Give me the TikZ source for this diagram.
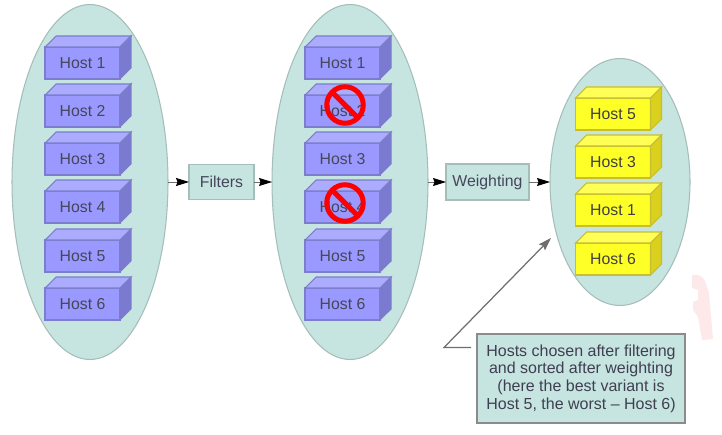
\documentclass[tikz,border=0pt]{standalone}
\usepackage{xcolor}
\usepackage{fontspec}
\setmainfont{Liberation Sans}
\usetikzlibrary{shapes.geometric, arrows.meta, positioning}
\definecolor{poolcolor}{RGB}{198,228,224}
\definecolor{poolline}{RGB}{165,190,185}
\definecolor{hostcolor}{RGB}{153,153,255}
\definecolor{hosttop}{RGB}{172,172,255}
\definecolor{hostside}{RGB}{122,122,208}
\definecolor{hostline}{RGB}{125,125,205}
\definecolor{bestcolor}{RGB}{255,255,40}
\definecolor{besttop}{RGB}{255,255,85}
\definecolor{bestside}{RGB}{218,208,30}
\definecolor{bestline}{RGB}{200,190,50}
\definecolor{flowcolor}{RGB}{110,110,110}
\definecolor{textcolor}{RGB}{70,70,90}
\definecolor{markcolor}{RGB}{253,233,233}

\begin{document}
\begin{tikzpicture}[
    x=0.02cm, y=-0.02cm,
    pool/.style={draw=poolline, line width=0.6pt, fill=poolcolor, ellipse, inner sep=0pt, outer sep=0pt},
    hostbox/.style={draw=hostline, line width=0.6pt, fill=hostcolor, minimum width=1.5cm, minimum height=0.64cm, inner sep=0pt, outer sep=0pt, font=\fontsize{9}{10}\selectfont, text=textcolor},
    bestbox/.style={hostbox, draw=bestline, fill=bestcolor, text=black!75},
    stage/.style={draw=poolline, line width=0.8pt, fill=poolcolor, inner sep=0pt, outer sep=0pt, font=\fontsize{9}{10}\selectfont, text=textcolor},
    arrow/.style={-{Stealth[length=2.6mm, width=1.6mm, inset=0.3mm, black]}, line width=0.5pt, flowcolor},
    ban/.style={circle, draw=red, line width=2.85pt, minimum size=0.73cm, inner sep=0pt, outer sep=0pt}
]
    \useasboundingbox (0,0) rectangle (722,435);

    % Faint mark at the right edge
    \fill[markcolor] (692,275) .. controls (698,274) and (703,276) .. (705,281) -- (709,293) -- (713,339) -- (702,340) -- (698,317) -- (693,310) -- (693,302) -- (698,300) -- (698,290) -- (692,288) -- cycle;

    % Pools
    \node[pool, minimum width=3.12cm, minimum height=7.1cm] (allhosts) at (90,182) {};
    \node[pool, minimum width=3.12cm, minimum height=7.1cm] (passed) at (350,182) {};
    \node[pool, minimum width=2.8cm, minimum height=4.94cm] (chosen) at (620,182) {};

    % Hosts
    \node[hostbox] (a1) at (82.5,63) {Host 1};
    \node[hostbox] (a2) at (82.5,111) {Host 2};
    \node[hostbox] (a3) at (82.5,159) {Host 3};
    \node[hostbox] (a4) at (82.5,207) {Host 4};
    \node[hostbox] (a5) at (82.5,256) {Host 5};
    \node[hostbox] (a6) at (82.5,304) {Host 6};
    \node[hostbox] (b1) at (342.5,63) {Host 1};
    \node[hostbox] (b2) at (342.5,111) {Host 2};
    \node[hostbox] (b3) at (342.5,159) {Host 3};
    \node[hostbox] (b4) at (342.5,207) {Host 4};
    \node[hostbox] (b5) at (342.5,256) {Host 5};
    \node[hostbox] (b6) at (342.5,304) {Host 6};
    \node[bestbox] (c1) at (613,114) {Host 5};
    \node[bestbox] (c2) at (613,162) {Host 3};
    \node[bestbox] (c3) at (613,210) {Host 1};
    \node[bestbox] (c4) at (613,259) {Host 6};

    % Box faces
    \foreach \n in {a1,a2,a3,a4,a5,a6,b1,b2,b3,b4,b5,b6} {
        \draw[hostline, fill=hosttop, line width=0.6pt] (\n.north west) -- ++(11,-11) -- ++(75,0) -- (\n.north east) -- cycle;
        \draw[hostline, fill=hostside, line width=0.6pt] (\n.north east) -- ++(11,-11) -- ++(0,32) -- (\n.south east) -- cycle;
    }
    \foreach \n in {c1,c2,c3,c4} {
        \draw[bestline, fill=besttop, line width=0.6pt] (\n.north west) -- ++(11,-11) -- ++(75,0) -- (\n.north east) -- cycle;
        \draw[bestline, fill=bestside, line width=0.6pt] (\n.north east) -- ++(11,-11) -- ++(0,32) -- (\n.south east) -- cycle;
    }

    % Rejected hosts
    \node[ban] (no2) at (345,105) {};
    \node[ban] (no4) at (345,203) {};
    \draw[red, line width=2.85pt] (no2.north west) -- (no2.south east);
    \draw[red, line width=2.85pt] (no4.north west) -- (no4.south east);

    % Stages
    \node[stage, minimum width=1.3cm, minimum height=0.7cm] (filters) at (221.5,182) {Filters};
    \node[stage, minimum width=1.66cm, minimum height=0.72cm] (weighting) at (487.5,182) {Weighting};
    \draw[arrow] (allhosts) -- (filters);
    \draw[arrow] (filters) -- (passed);
    \draw[arrow] (passed) -- (weighting);
    \draw[arrow] (weighting) -- (chosen);

    % Note
    \node[draw=flowcolor!80, line width=1pt, fill=poolcolor, minimum width=4.16cm, minimum height=1.78cm, inner sep=0pt, outer sep=0pt, align=center, font=\fontsize{9.1}{10.1}\selectfont, text=textcolor!90!black] (note) at (581,378.5) {Hosts chosen after filtering\\and sorted after weighting\\(here the best variant is\\Host 5, the worst -- Host 6)};
    \coordinate (notestart) at (471,347.5);
    \coordinate (notebend) at (444,347.5);
    \coordinate (notetip) at (551,238);
    \draw[-{Stealth[length=2.6mm, width=1.7mm, inset=0.4mm]}, line width=0.7pt, flowcolor] (notestart) -- (notebend) -- (notetip);
\end{tikzpicture}
\end{document}
